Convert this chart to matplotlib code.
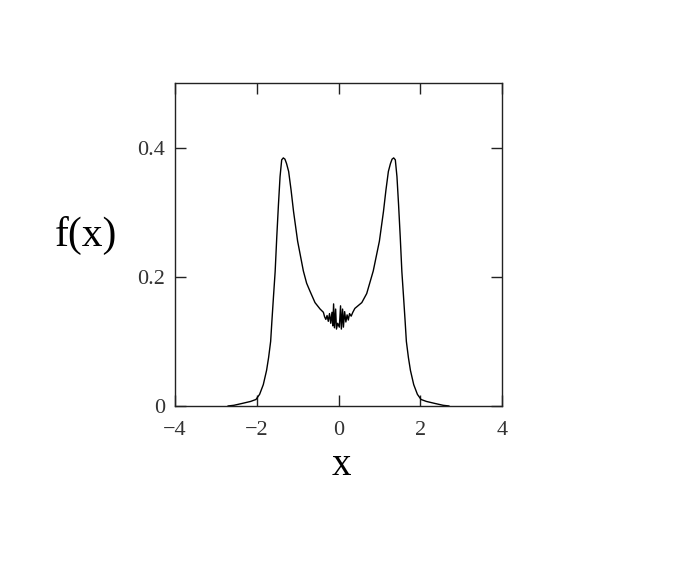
import matplotlib
matplotlib.use("Agg")
import matplotlib.pyplot as plt

plt.rcParams['font.family'] = ['Liberation Serif', 'DejaVu Serif']

# curve (left tail -> right tail)
xs = [-2.70, -2.56, -2.35, -2.15, -2.02, -1.93, -1.84, -1.76, -1.71, -1.66,
      -1.63, -1.59, -1.55, -1.51, -1.47, -1.43, -1.39, -1.35, -1.31, -1.27,
      -1.22, -1.16, -1.10, -1.00, -0.86, -0.78, -0.70, -0.575, -0.45, -0.37,
      -0.34, -0.31, -0.28, -0.25, -0.22, -0.19, -0.16, -0.14, -0.12, -0.10,
      -0.07, -0.05, -0.02, 0.02, 0.05, 0.07, 0.10, 0.12, 0.15, 0.18,
      0.21, 0.24, 0.27, 0.31, 0.35, 0.40, 0.57, 0.69, 0.85, 1.00,
      1.10, 1.16, 1.22, 1.27, 1.31, 1.35, 1.39, 1.43, 1.47, 1.51,
      1.55, 1.59, 1.63, 1.66, 1.71, 1.76, 1.84, 1.93, 2.02, 2.15,
      2.35, 2.56, 2.70]
fx = [0.000, 0.001, 0.004, 0.007, 0.010, 0.018, 0.033, 0.055, 0.075, 0.100,
      0.131, 0.170, 0.208, 0.262, 0.311, 0.355, 0.381, 0.384, 0.382, 0.375,
      0.363, 0.334, 0.301, 0.255, 0.209, 0.190, 0.178, 0.160, 0.150, 0.145,
      0.138, 0.134, 0.140, 0.131, 0.143, 0.128, 0.145, 0.124, 0.158, 0.121,
      0.150, 0.119, 0.128, 0.122, 0.155, 0.119, 0.150, 0.122, 0.146, 0.130,
      0.141, 0.133, 0.143, 0.139, 0.145, 0.151, 0.160, 0.174, 0.209, 0.255,
      0.301, 0.334, 0.363, 0.375, 0.382, 0.384, 0.381, 0.355, 0.311, 0.262,
      0.208, 0.170, 0.131, 0.100, 0.075, 0.055, 0.033, 0.018, 0.010, 0.007,
      0.004, 0.001, 0.000]

xticks = [-4, -2, 0, 2, 4]
yticks = [0, 0.2, 0.4]
ytick_labels = ['0', '0.2', '0.4']

fig = plt.figure(figsize=(6.89, 5.75), dpi=100)
ax = fig.add_axes([0.254, 0.294, 0.4746, 0.5617])

ax.plot(xs, fx, color='black', lw=1.0)

ax.set_xlim(-4, 4)
ax.set_ylim(0, 0.5)
ax.set_xticks(xticks)
ax.set_xticklabels([str(t).replace('-', '\u2212') for t in xticks])
ax.set_yticks(yticks)
ax.set_yticklabels(ytick_labels)
ax.tick_params(direction='in', length=8, width=1, top=True, right=True,
               labelsize=16, labelcolor='#333333', color='#222222')
ax.tick_params(axis='x', pad=11)
ax.tick_params(axis='y', pad=7)
for s in ax.spines.values():
    s.set_linewidth(1)
    s.set_color('#222222')

fig.text(0.125, 0.591, 'f(x)', fontsize=30, ha='center', va='center')
fig.text(0.496, 0.19, 'x', fontsize=28, ha='center', va='center')

fig.savefig('out.png', dpi=100)
